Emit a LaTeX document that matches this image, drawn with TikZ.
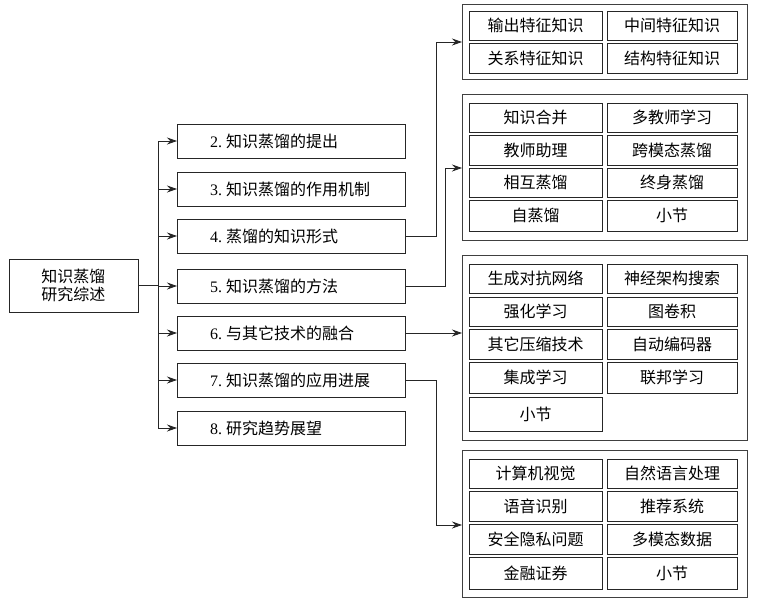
\documentclass[tikz,border=0pt]{standalone}
\usepackage{fontspec}
\setmainfont{Liberation Serif}
\newfontfamily\cjk{Noto Sans CJK SC}
\usetikzlibrary{arrows.meta}
\newcommand\mycell[6]{\node[cell, minimum width=#4pt, minimum height=#5pt] (#1) at (#2,#3) {\cjk #6};}
\newcommand\nm[2]{#1.\hspace{4pt}{\cjk #2}}
\begin{document}
\begin{tikzpicture}[x=1pt,y=-1pt,
  every node/.style={font=\fontsize{16}{18}\selectfont},
  cell/.style={draw=black!85, line width=0.8pt, inner sep=0pt, outer sep=0pt, anchor=north west},
  grp/.style={draw=black!75, line width=0.9pt, inner sep=0pt, outer sep=0pt, anchor=north west},
  mbox/.style={draw=black!85, line width=0.9pt, inner xsep=0pt, inner ysep=0pt, outer sep=0pt, minimum width=228pt, minimum height=34pt, text width=162pt, align=left, anchor=north west},
  rootbox/.style={draw=black!85, line width=0.9pt, inner sep=0pt, outer sep=0pt, minimum width=129pt, minimum height=53pt, align=center, anchor=north west},
  arr/.style={draw=black!85, line width=0.8pt, -{Stealth[length=10pt,width=7pt]}},
  ln/.style={draw=black!85, line width=0.8pt}]
\useasboundingbox (0,0) rectangle (764,606);

% root
\node[rootbox] (root) at (9,259) {\cjk 知识蒸馏\\\cjk 研究综述};

% middle boxes
\node[mbox] (m2) at (177,124) {\nm{2}{知识蒸馏的提出}};
\node[mbox] (m3) at (177,172) {\nm{3}{知识蒸馏的作用机制}};
\node[mbox] (m4) at (177,219) {\nm{4}{蒸馏的知识形式}};
\node[mbox] (m5) at (177,269) {\nm{5}{知识蒸馏的方法}};
\node[mbox] (m6) at (177,316) {\nm{6}{与其它技术的融合}};
\node[mbox] (m7) at (177,363) {\nm{7}{知识蒸馏的应用进展}};
\node[mbox] (m8) at (177,411) {\nm{8}{研究趋势展望}};

% trunk
\coordinate (tr) at (158,0);
\draw[ln] (root.east) -- (root.east -| tr);
\draw[ln] (tr |- m2.west) -- (tr |- m8.west);
\foreach \m in {m2,m3,m4,m5,m6,m7,m8} \draw[arr] (tr |- \m.west) -- (\m.west);

% group 1
\node[grp, minimum width=285pt, minimum height=75pt] (g1) at (462,4) {};
\mycell{g1a}{469}{11}{133}{29}{输出特征知识}
\mycell{g1b}{607}{11}{130}{29}{中间特征知识}
\mycell{g1c}{469}{43}{133}{30}{关系特征知识}
\mycell{g1d}{607}{43}{130}{30}{结构特征知识}

% group 2
\node[grp, minimum width=285pt, minimum height=146pt] (g2) at (462,94) {};
\mycell{g2a}{469}{103}{133}{29}{知识合并}
\mycell{g2b}{469}{135}{133}{30}{教师助理}
\mycell{g2c}{469}{168}{133}{29}{相互蒸馏}
\mycell{g2d}{469}{200}{133}{31}{自蒸馏}
\mycell{g2e}{607}{103}{130}{29}{多教师学习}
\mycell{g2f}{607}{135}{130}{30}{跨模态蒸馏}
\mycell{g2g}{607}{168}{130}{29}{终身蒸馏}
\mycell{g2h}{607}{200}{130}{31}{小节}

% group 3
\node[grp, minimum width=285pt, minimum height=185pt] (g3) at (462,255) {};
\mycell{g3a}{469}{264}{133}{29}{生成对抗网络}
\mycell{g3b}{469}{297}{133}{29}{强化学习}
\mycell{g3c}{469}{329}{133}{30}{其它压缩技术}
\mycell{g3d}{469}{362}{133}{31}{集成学习}
\mycell{g3e}{469}{397}{133}{34}{小节}
\mycell{g3f}{607}{264}{130}{29}{神经架构搜索}
\mycell{g3g}{607}{297}{130}{29}{图卷积}
\mycell{g3h}{607}{329}{130}{30}{自动编码器}
\mycell{g3i}{607}{362}{130}{31}{联邦学习}

% group 4
\node[grp, minimum width=285pt, minimum height=147pt] (g4) at (462,450) {};
\mycell{g4a}{469}{459}{133}{29}{计算机视觉}
\mycell{g4b}{469}{491}{133}{30}{语音识别}
\mycell{g4c}{469}{524}{133}{30}{安全隐私问题}
\mycell{g4d}{469}{557}{133}{32}{金融证券}
\mycell{g4e}{607}{459}{130}{29}{自然语言处理}
\mycell{g4f}{607}{491}{130}{30}{推荐系统}
\mycell{g4g}{607}{524}{130}{30}{多模态数据}
\mycell{g4h}{607}{557}{130}{32}{小节}

% connectors to groups
\coordinate (j4) at (436,42);
\coordinate (j5) at (445,168);
\coordinate (j7) at (436,525);
\draw[arr] (m4.east) -| (j4) -- (j4 -| g1.west);
\draw[arr] (m5.east) -| (j5) -- (j5 -| g2.west);
\draw[arr] (m6.east) -- (m6.east -| g3.west);
\draw[arr] (m7.east) -| (j7) -- (j7 -| g4.west);
\end{tikzpicture}
\end{document}
